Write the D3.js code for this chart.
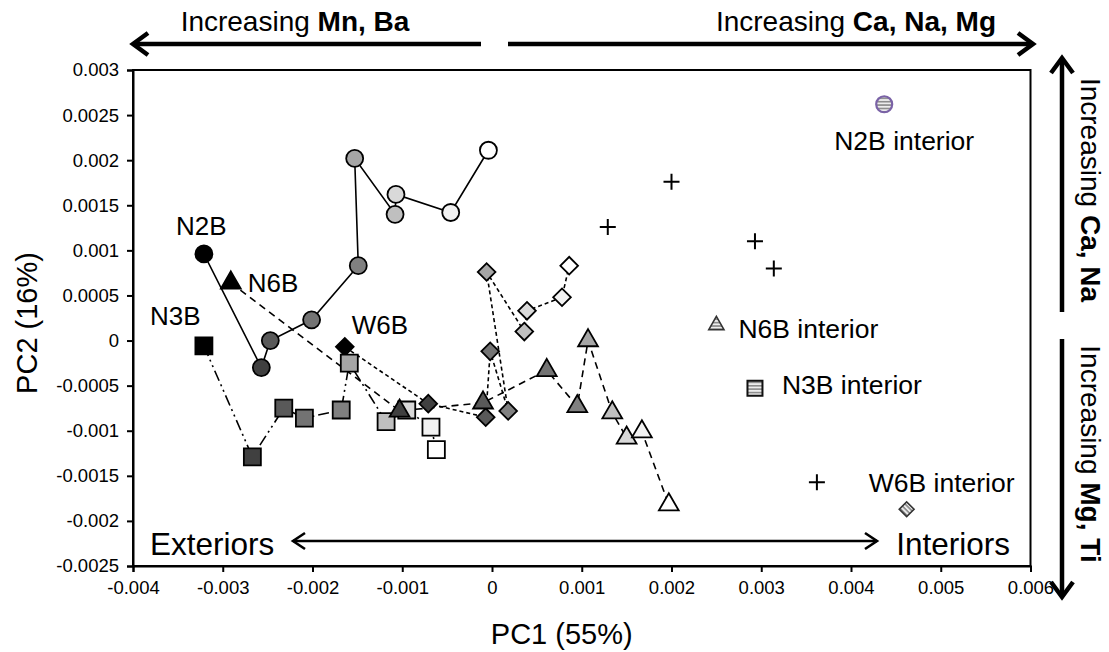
<!DOCTYPE html>
<html>
<head>
<meta charset="utf-8">
<script src="https://cdn.jsdelivr.net/npm/d3@7"></script>
<style>
  html, body { margin: 0; padding: 0; background: #fff; }
  svg { display: block; font-family: "Liberation Sans", Arial, sans-serif; }
</style>
</head>
<body>
<svg id="chart" width="1109" height="652"></svg>
<script>
// ---------------- DATA ----------------
const xTicks = [-0.004, -0.003, -0.002, -0.001, 0, 0.001, 0.002, 0.003, 0.004, 0.005, 0.006];
const xTickLabels = ["-0.004", "-0.003", "-0.002", "-0.001", "0", "0.001", "0.002", "0.003", "0.004", "0.005", "0.006"];
const yTicks = [0.003, 0.0025, 0.002, 0.0015, 0.001, 0.0005, 0, -0.0005, -0.001, -0.0015, -0.002, -0.0025];
const yTickLabels = ["0.003", "0.0025", "0.002", "0.0015", "0.001", "0.0005", "0", "-0.0005", "-0.001", "-0.0015", "-0.002", "-0.0025"];

// shade of each point along a traverse (exterior -> interior)
const shades = ["#000000", "#404040", "#595959", "#737373", "#808080", "#a6a6a6", "#bfbfbf", "#d9d9d9", "#f2f2f2", "#ffffff"];

const n2bPC1 = [-0.00321, -0.00257, -0.00247, -0.00201, -0.00149, -0.00153, -0.00108, -0.00107, -0.00046, -0.00004];
const n2bPC2 = [0.00096, -0.00030, 0.00000, 0.00023, 0.00083, 0.00202, 0.00140, 0.00162, 0.00142, 0.00211];

const n6bPC1 = [-0.00291, -0.00103, -0.00010, 0.00061, 0.00095, 0.00107, 0.00134, 0.00150, 0.00167, 0.00197];
const n6bPC2 = [0.00064, -0.00078, -0.00069, -0.00033, -0.00073, 0.00000, -0.00080, -0.00108, -0.00101, -0.00182];

const n3bPC1 = [-0.00321, -0.00267, -0.00232, -0.00209, -0.00168, -0.00159, -0.00118, -0.00095, -0.00068, -0.00062];
const n3bPC2 = [-0.00006, -0.00129, -0.00075, -0.00086, -0.00077, -0.00025, -0.00090, -0.00077, -0.00096, -0.00121];

const w6bPC1 = [-0.00164, -0.00071, -0.00007, -0.00002, 0.00018, -0.00006, 0.00036, 0.00039, 0.00078, 0.00086];
const w6bPC2 = [-0.00007, -0.00070, -0.00085, -0.00012, -0.00078, 0.00076, 0.00010, 0.00033, 0.00048, 0.00083];

const interiorNames = ["N2B interior", "N6B interior", "N3B interior", "W6B interior"];
const interiorPC1 = [0.00437, 0.00250, 0.00293, 0.00462];
const interiorPC2 = [0.00262, 0.00017, -0.00053, -0.00187];

const crossPC1 = [0.00200, 0.00129, 0.00293, 0.00314, 0.00362];
const crossPC2 = [0.00176, 0.00126, 0.00110, 0.00080, -0.00157];

// ---------------- LAYOUT ----------------
const svg = d3.select("#chart");
const x = d3.scaleLinear().domain([-0.004, 0.006]).range([133, 1030.5]);
const y = d3.scaleLinear().domain([-0.0025, 0.003]).range([566, 70]);

const defs = svg.append("defs");
const pat = defs.append("pattern").attr("id", "stripes")
  .attr("patternUnits", "userSpaceOnUse").attr("width", 4).attr("height", 3.4);
pat.append("rect").attr("width", 4).attr("height", 3.4).attr("fill", "#ededed");
pat.append("rect").attr("y", 0).attr("width", 4).attr("height", 1.6).attr("fill", "#8a8a8a");

function chevron(id, len, half, sw) {
  defs.append("marker").attr("id", id)
    .attr("markerUnits", "userSpaceOnUse")
    .attr("viewBox", `${-len - sw} ${-half - sw} ${len + 2 * sw} ${2 * half + 2 * sw}`)
    .attr("refX", 0).attr("refY", 0)
    .attr("markerWidth", len + 2 * sw).attr("markerHeight", 2 * half + 2 * sw)
    .attr("orient", "auto-start-reverse")
    .append("path")
    .attr("d", `M${-len},${-half} L0,0 L${-len},${half}`)
    .attr("fill", "none").attr("stroke", "#000").attr("stroke-width", sw)
    .attr("stroke-linejoin", "miter").attr("stroke-linecap", "butt");
}
chevron("bigArrow", 15, 11, 4.5);
chevron("smallArrow", 12, 8, 2.6);

// plot frame
svg.append("rect").attr("x", x.range()[0]).attr("y", y.range()[1])
  .attr("width", x.range()[1] - x.range()[0]).attr("height", y.range()[0] - y.range()[1])
  .attr("fill", "#fff").attr("stroke", "#000").attr("stroke-width", 2);

// axes
const xAxis = d3.axisBottom(x).tickValues(xTicks).tickSize(6).tickPadding(6)
  .tickFormat((d, i) => xTickLabels[i]);
const yAxis = d3.axisLeft(y).tickValues(yTicks).tickSize(6).tickPadding(8)
  .tickFormat((d, i) => yTickLabels[i]);

const gx = svg.append("g").attr("transform", `translate(0,${y.range()[0]})`).call(xAxis);
const gy = svg.append("g").attr("transform", `translate(${x.range()[0]},0)`).call(yAxis);
[gx, gy].forEach(g => {
  g.select(".domain").attr("stroke", "#000").attr("stroke-width", 2);
  g.selectAll(".tick line").attr("stroke", "#000").attr("stroke-width", 2);
  g.selectAll(".tick text").attr("fill", "#000").style("font-size", "18.5px")
    .style("font-family", "'Liberation Sans', Arial, sans-serif");
});
gx.selectAll(".tick text").attr("dy", "0.85em");

// axis titles
svg.append("text").attr("x", (x.range()[0] + x.range()[1]) / 2 - 20).attr("y", 644)
  .attr("text-anchor", "middle").style("font-size", "29px").text("PC1 (55%)");
svg.append("text").attr("transform", `translate(37,${(y.range()[0] + y.range()[1]) / 2 + 5}) rotate(-90)`)
  .attr("text-anchor", "middle").style("font-size", "29px").text("PC2 (16%)");

// ---------------- SERIES ----------------
const series = [
  { name: "W6B", px: w6bPC1, py: w6bPC2, sym: "diamond", dash: "4,3" },
  { name: "N3B", px: n3bPC1, py: n3bPC2, sym: "square", dash: "11,4,2,4,2,4" },
  { name: "N6B", px: n6bPC1, py: n6bPC2, sym: "triangle", dash: "7,5" },
  { name: "N2B", px: n2bPC1, py: n2bPC2, sym: "circle", dash: null }
];

const symbolPath = {
  circle: d3.symbol().type(d3.symbolCircle).size(Math.PI * 8.5 * 8.5)(),
  square: d3.symbol().type(d3.symbolSquare).size(17 * 17)(),
  triangle: d3.symbol().type(d3.symbolTriangle).size(170)(),
  diamond: d3.symbol().type(d3.symbolSquare).size(12.5 * 12.5)()
};
const symbolRot = { circle: 0, square: 0, triangle: 0, diamond: 45 };

const line = d3.line().x(d => x(d[0])).y(d => y(d[1]));

series.forEach(s => {
  const pts = s.px.map((v, i) => [v, s.py[i]]);
  svg.append("path").datum(pts).attr("d", line)
    .attr("fill", "none").attr("stroke", "#000").attr("stroke-width", 1.6)
    .attr("stroke-dasharray", s.dash);
});

series.forEach(s => {
  const pts = s.px.map((v, i) => [v, s.py[i], shades[i]]);
  svg.append("g").selectAll("path").data(pts).join("path")
    .attr("d", symbolPath[s.sym])
    .attr("transform", d => `translate(${x(d[0])},${y(d[1])}) rotate(${symbolRot[s.sym]})`)
    .attr("fill", d => d[2]).attr("stroke", "#000").attr("stroke-width", 1.8);
});

// series labels (offset from first point)
const labelOffsets = { N2B: [-28, -19], N6B: [17, 9], N3B: [-54, -21], W6B: [7, -13] };
series.forEach(s => {
  const o = labelOffsets[s.name];
  svg.append("text").attr("x", x(s.px[0]) + o[0]).attr("y", y(s.py[0]) + o[1])
    .style("font-size", "26px").text(s.name);
});

// interiors
const interiorSym = [
  { p: d3.symbol().type(d3.symbolCircle).size(Math.PI * 8 * 8)(), rot: 0, stroke: "#7a62a6", sw: 2.2 },
  { p: d3.symbol().type(d3.symbolTriangle).size(100)(), rot: 0, stroke: "#333", sw: 1.6 },
  { p: d3.symbol().type(d3.symbolSquare).size(15 * 15)(), rot: 0, stroke: "#111", sw: 2 },
  { p: d3.symbol().type(d3.symbolSquare).size(10.5 * 10.5)(), rot: 45, stroke: "#333", sw: 1.6 }
];
const interiorLabelPos = [[20, 46, "middle"], [22, 13, "start"], [27, 6, "start"], [35, -17, "middle"]];
interiorPC1.forEach((v, i) => {
  const cx = x(v), cy = y(interiorPC2[i]);
  svg.append("path").attr("d", interiorSym[i].p)
    .attr("transform", `translate(${cx},${cy}) rotate(${interiorSym[i].rot})`)
    .attr("fill", "url(#stripes)").attr("stroke", interiorSym[i].stroke)
    .attr("stroke-width", interiorSym[i].sw);
  const lp = interiorLabelPos[i];
  svg.append("text").attr("x", cx + lp[0]).attr("y", cy + lp[1])
    .attr("text-anchor", lp[2]).style("font-size", "26.5px").text(interiorNames[i]);
});

// crosses
svg.append("g").selectAll("path").data(crossPC1.map((v, i) => [v, crossPC2[i]])).join("path")
  .attr("d", d => { const cx = x(d[0]), cy = y(d[1]); return `M${cx - 8},${cy}H${cx + 8}M${cx},${cy - 8}V${cy + 8}`; })
  .attr("stroke", "#000").attr("stroke-width", 2);

// ---------------- ANNOTATIONS ----------------
// Exteriors <-> Interiors
svg.append("text").attr("x", 150).attr("y", 555).style("font-size", "31.5px").text("Exteriors");
svg.append("text").attr("x", 1010).attr("y", 555).attr("text-anchor", "end").style("font-size", "31.5px").text("Interiors");
svg.append("line").attr("x1", 293).attr("y1", 541).attr("x2", 877).attr("y2", 541)
  .attr("stroke", "#000").attr("stroke-width", 2.6)
  .attr("marker-start", "url(#smallArrow)").attr("marker-end", "url(#smallArrow)");

// top arrows
function boldText(xp, yp, anchor, normal, bold, rot) {
  const t = svg.append("text").attr("text-anchor", anchor).style("font-size", "28px");
  if (rot) t.attr("transform", `translate(${xp},${yp}) rotate(${rot})`);
  else t.attr("x", xp).attr("y", yp);
  t.append("tspan").text(normal);
  t.append("tspan").style("font-weight", "bold").text(bold);
}
boldText(295, 31, "middle", "Increasing ", "Mn, Ba");
boldText(996, 31, "end", "Increasing ", "Ca, Na, Mg");
svg.append("line").attr("x1", 481).attr("y1", 44).attr("x2", 133).attr("y2", 44)
  .attr("stroke", "#000").attr("stroke-width", 4.5).attr("marker-end", "url(#bigArrow)");
svg.append("line").attr("x1", 508).attr("y1", 44).attr("x2", 1033).attr("y2", 44)
  .attr("stroke", "#000").attr("stroke-width", 4.5).attr("marker-end", "url(#bigArrow)");

// right arrows
svg.append("line").attr("x1", 1062).attr("y1", 312).attr("x2", 1062).attr("y2", 58)
  .attr("stroke", "#000").attr("stroke-width", 4.5).attr("marker-end", "url(#bigArrow)");
svg.append("line").attr("x1", 1062).attr("y1", 339).attr("x2", 1062).attr("y2", 597)
  .attr("stroke", "#000").attr("stroke-width", 4.5).attr("marker-end", "url(#bigArrow)");
boldText(1081, 190, "middle", "Increasing ", "Ca, Na", 90);
boldText(1081, 454, "middle", "Increasing ", "Mg, Ti", 90);
</script>
</body>
</html>
